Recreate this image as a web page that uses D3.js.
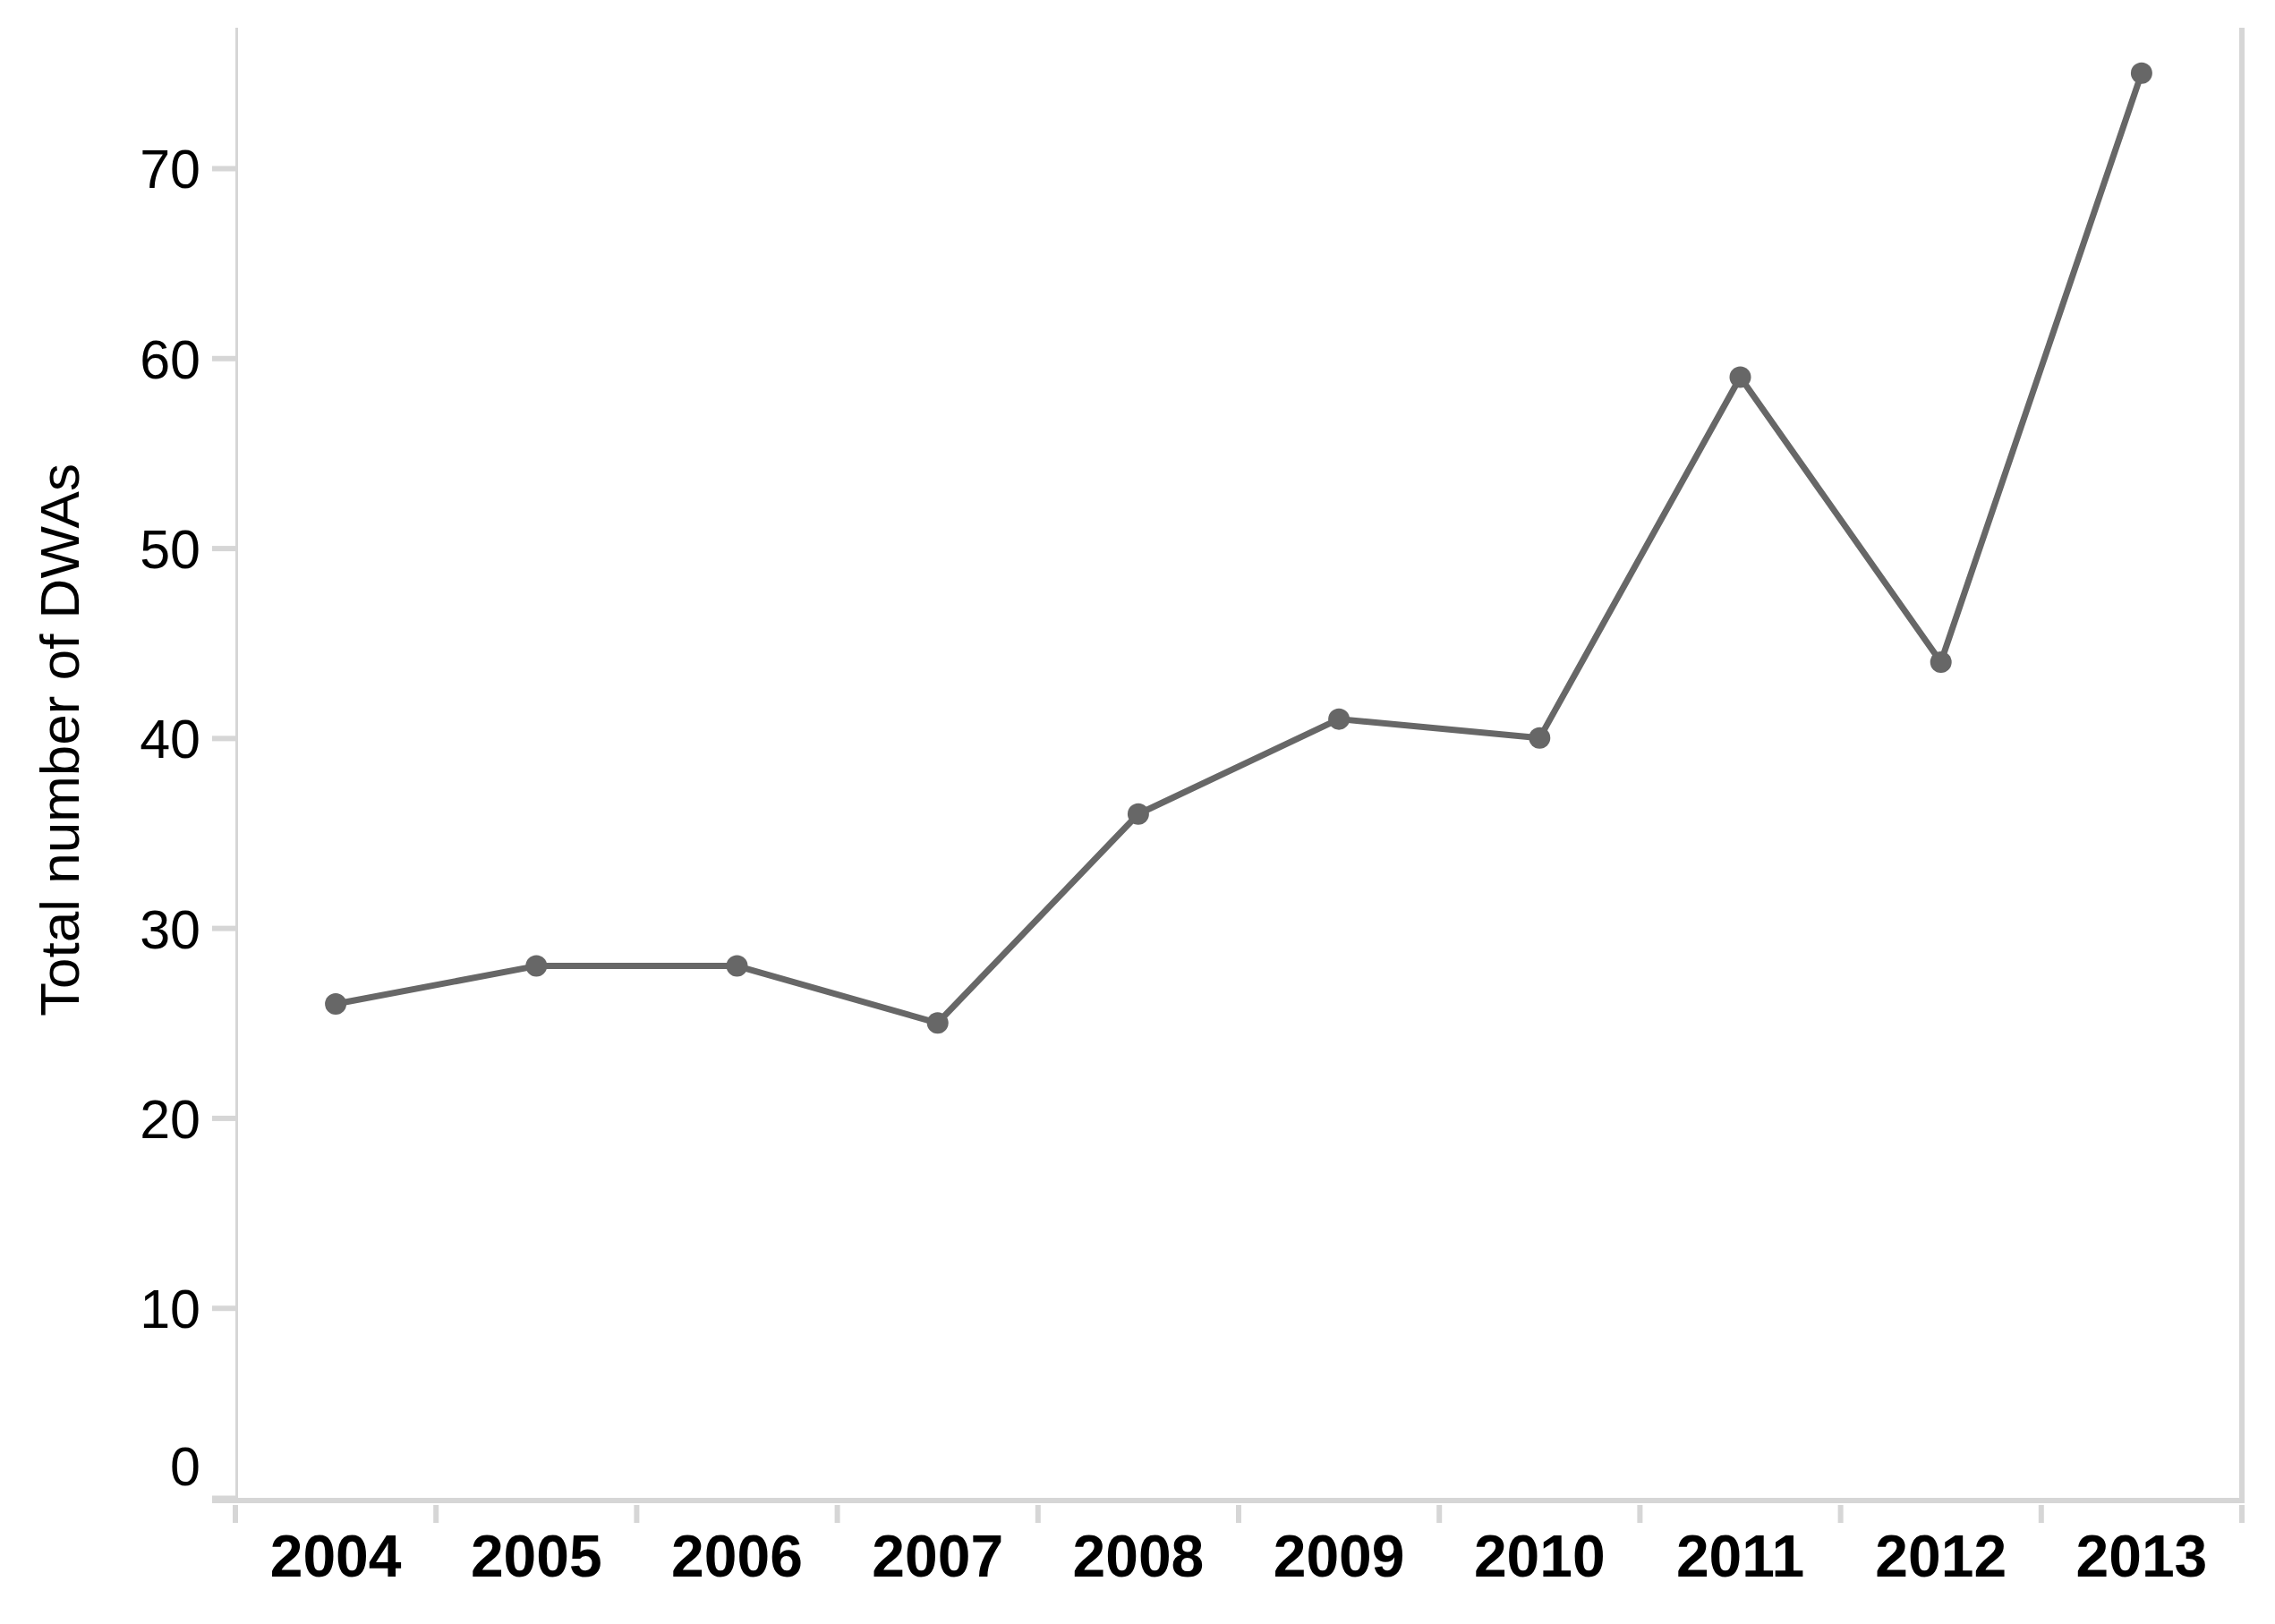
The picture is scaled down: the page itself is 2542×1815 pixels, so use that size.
<!DOCTYPE html>
<html>
<head>
<meta charset="utf-8">
<script src="https://cdn.jsdelivr.net/npm/d3@7"></script>
<style>
  html, body { margin: 0; padding: 0; background: #ffffff; }
  svg { display: block; }
  text { font-family: "Liberation Sans", Arial, Helvetica, sans-serif; }
</style>
</head>
<body>
<script>
const years = ["2004","2005","2006","2007","2008","2009","2010","2011","2012","2013"];
const totals = [26, 28, 28, 25, 36, 41, 40, 59, 44, 75];
const yTickValues = [0, 10, 20, 30, 40, 50, 60, 70];
const yTitle = "Total number of DWAs";

(function () {
const W = 2542, H = 1815;
const plotLeft = 263, plotRight = 2505, plotTop = 31, plotBottom = 1674;
const axisGray = "#d6d6d6";
const lineGray = "#676767";

const svg = d3.select("body").append("svg")
  .attr("width", W).attr("height", H);

const x = d3.scaleBand().domain(years).range([plotLeft, plotRight]).padding(0);
const y = d3.scaleLinear().domain([0, 70]).range([plotBottom, 188]);

// Frame lines
svg.append("line").attr("x1", 264.5).attr("x2", 264.5).attr("y1", plotTop).attr("y2", 1677)
  .attr("stroke", axisGray).attr("stroke-width", 3);
svg.append("line").attr("x1", 2505).attr("x2", 2505).attr("y1", plotTop).attr("y2", 1680)
  .attr("stroke", axisGray).attr("stroke-width", 6);
svg.append("line").attr("x1", 237).attr("x2", 2508).attr("y1", 1677).attr("y2", 1677)
  .attr("stroke", axisGray).attr("stroke-width", 6);

// Y axis (ticks + labels)
const yAxis = d3.axisLeft(y).tickValues(yTickValues).tickSize(27).tickPadding(13)
  .tickFormat(d3.format("d"));
const gy = svg.append("g").attr("transform", "translate(264,0)").call(yAxis);
gy.select(".domain").remove();
gy.selectAll(".tick line").attr("stroke", axisGray).attr("stroke-width", 6);
gy.selectAll(".tick text")
  .attr("fill", "#000").attr("font-size", 61)
  .style("font-family", "'Liberation Sans', Arial, sans-serif")
  .attr("dy", "0.36em");
gy.selectAll(".tick").filter(d => d === 0).select("text").attr("y", -36);

// X axis labels
const xAxis = d3.axisBottom(x).tickSize(0).tickPadding(0);
const gx = svg.append("g").attr("transform", "translate(0,1677)").call(xAxis);
gx.select(".domain").remove();
gx.selectAll(".tick text")
  .attr("fill", "#000").attr("font-size", 66).attr("font-weight", "bold")
  .style("font-family", "'Liberation Sans', Arial, sans-serif")
  .attr("dy", null).attr("y", 85);

// X tick marks at band edges
const edges = years.map(d => x(d)).concat([x.range()[1]]);
svg.append("g").selectAll("line").data(edges).join("line")
  .attr("x1", d => d).attr("x2", d => d).attr("y1", 1682).attr("y2", 1702)
  .attr("stroke", axisGray).attr("stroke-width", 6);

// Y axis title
svg.append("text")
  .attr("transform", "translate(88,827) rotate(-90)")
  .attr("text-anchor", "middle")
  .attr("font-size", 62).attr("fill", "#000")
  .text(yTitle);

// Line + points
const pts = years.map((d, i) => ({ year: d, value: totals[i] }));
const line = d3.line().x(d => x(d.year) + x.bandwidth() / 2).y(d => y(d.value));
svg.append("path").datum(pts).attr("d", line)
  .attr("fill", "none").attr("stroke", lineGray).attr("stroke-width", 7)
  .attr("stroke-linejoin", "round");
svg.append("g").selectAll("circle").data(pts).join("circle")
  .attr("cx", d => x(d.year) + x.bandwidth() / 2)
  .attr("cy", d => y(d.value))
  .attr("r", 12).attr("fill", lineGray);
})();
</script>
</body>
</html>
